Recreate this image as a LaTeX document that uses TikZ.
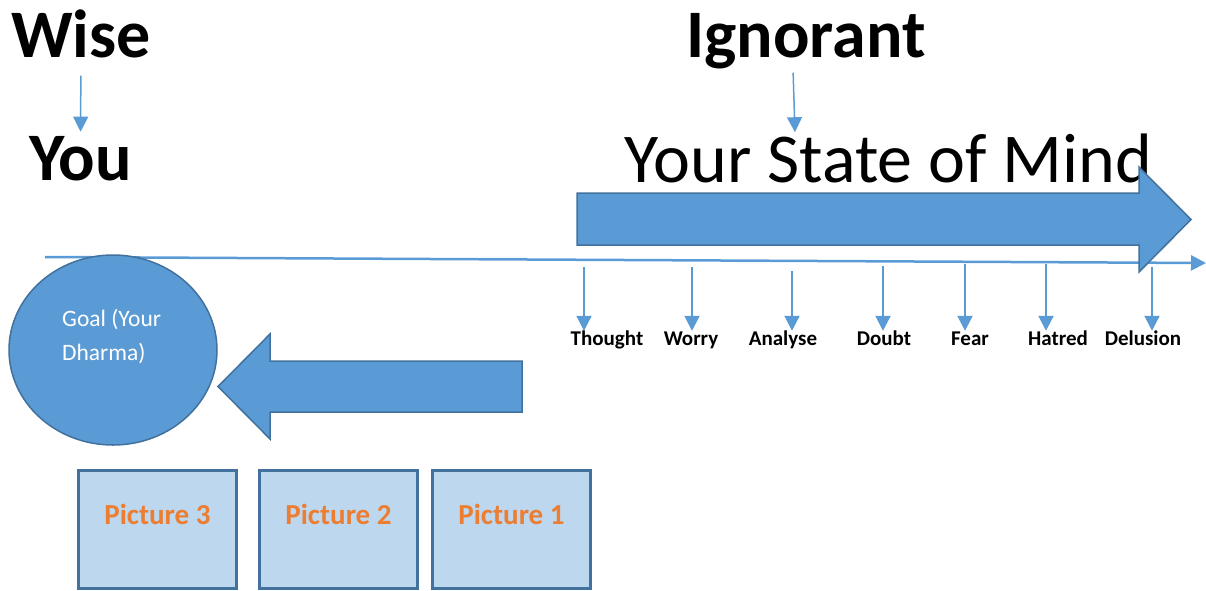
\documentclass[tikz,border=0pt]{standalone}
\usepackage{fontspec}
\setmainfont{Carlito}
\usetikzlibrary{arrows.meta,positioning,shapes.geometric}
\definecolor{accentblue}{HTML}{5B9BD5}
\definecolor{darkblue}{HTML}{41719C}
\definecolor{paleblue}{HTML}{BDD7EE}
\definecolor{picorange}{HTML}{ED7D31}

\begin{document}
\begin{tikzpicture}[x=1pt,y=-1pt,
  big/.style={inner sep=0,font=\fontsize{68}{80}\selectfont\bfseries},
  state/.style={inner sep=0,text height=14pt,font=\fontsize{21}{25}\selectfont\bfseries},
  link/.style={color=accentblue,-{Triangle[length=15pt,width=15pt]}},
  tick/.style={link,line width=2pt},
  block/.style={fill=accentblue,draw=darkblue,line width=1.5pt,line join=miter},
  pic node/.style={draw=darkblue,fill=paleblue,line width=3pt,minimum width=158,minimum height=118,text=picorange,font=\fontsize{29}{35}\selectfont\bfseries,text height=20pt,text depth=30pt}]
            \useasboundingbox (0,0) rectangle (1206,590);

            \node[big,anchor=base] (1) at (81,57) {Wise};
            \node[big,anchor=base] (2) at (80.5,180) {You};
            \node[big,anchor=base] (3) at (806,57) {Ignorant};
            \node[inner sep=0,anchor=base,font=\fontsize{70}{80}\selectfont] (4) at (888.5,182) {Your State of Mind};

            \draw[link,line width=1.5pt,shorten <=18pt,shorten >=4pt] (1) -- (2);
            \draw[link,line width=1.5pt,shorten <=4pt,shorten >=1pt] ([xshift=-13pt]3.south) -- ([xshift=-93.5pt]4.north);

            % time line
            \coordinate (5) at (45,257);
            \coordinate (6) at (1206,263);
            \draw[link,line width=2.5pt] (5) -- (6);

            % block arrows
            \draw[block] (577,193) -- (1139,193) -- (1139,167) -- (1191,219.5) -- (1139,272) -- (1139,245) -- (577,245) -- cycle;
            \draw[block] (522,361) -- (270,361) -- (270,334) -- (218,386.5) -- (270,439) -- (270,412) -- (522,412) -- cycle;

            \node[ellipse,fill=accentblue,draw=darkblue,line width=1.5pt,minimum width=208,minimum height=190,inner sep=0] (7) at (113,350) {};
            \node[anchor=base west,align=left,text=white,inner sep=0,font=\fontsize{23.5}{34}\selectfont] (8) at (62,360) {Goal (Your\\Dharma)};

            \node[state,anchor=base] (9) at (607,345) {Thought};
            \node[state,anchor=base] (10) at (691,345) {Worry};
            \node[state,anchor=base] (11) at (783,345) {Analyse};
            \node[state,anchor=base] (12) at (884,345) {Doubt};
            \node[state,anchor=base] (13) at (970,345) {Fear};
            \node[state,anchor=base] (14) at (1058,345) {Hatred};
            \node[state,anchor=base] (15) at (1143,345) {Delusion};

            \coordinate (c9) at (584,267);
            \coordinate (c10) at (692,267);
            \coordinate (c11) at (792,271);
            \coordinate (c12) at (883,266);
            \coordinate (c13) at (965,264);
            \coordinate (c14) at (1046,264);
            \coordinate (c15) at (1152,267);
            \draw[tick] (c9) -- (c9 |- 9.north);
            \draw[tick] (c10) -- (c10 |- 10.north);
            \draw[tick] (c11) -- (c11 |- 11.north);
            \draw[tick] (c12) -- (c12 |- 12.north);
            \draw[tick] (c13) -- (c13 |- 13.north);
            \draw[tick] (c14) -- (c14 |- 14.north);
            \draw[tick] (c15) -- (c15 |- 15.north);

            \node[pic node] (16) at (157.5,529) {Picture 3};
            \node[pic node,right=20pt of 16] (17) {Picture 2};
            \node[pic node,right=12pt of 17] (18) {Picture 1};
        \end{tikzpicture}
\end{document}
